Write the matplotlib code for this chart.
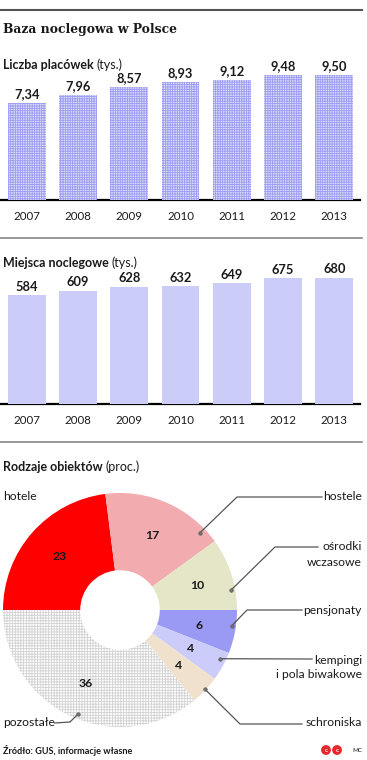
import matplotlib
matplotlib.use('Agg')
import matplotlib.pyplot as plt
import numpy as np
from matplotlib.patches import Circle

W, H = 367, 760
DPI = 100

# ---- data ----
years = ['2007', '2008', '2009', '2010', '2011', '2012', '2013']
placowki = [7.34, 7.96, 8.57, 8.93, 9.12, 9.48, 9.50]
placowki_labels = ['7,34', '7,96', '8,57', '8,93', '9,12', '9,48', '9,50']
miejsca = [584, 609, 628, 632, 649, 675, 680]
types = ['hotele', 'hostele', 'ośrodki\nwczasowe', 'pensjonaty',
         'kempingi\ni pola biwakowe', 'schroniska', 'pozostałe']
shares = [23, 17, 10, 6, 4, 4, 36]

# ---- style ----
plt.rcParams['font.family'] = ['Lato', 'DejaVu Sans']
plt.rcParams['hatch.linewidth'] = 0.6
TXT = '#1a1a1a'

fig = plt.figure(figsize=(W / DPI, H / DPI), dpi=DPI)


def px_axes(left, top, width, height, **kw):
    return fig.add_axes([left / W, 1 - (top + height) / H, width / W, height / H], **kw)


overlay = px_axes(0, 0, W, H, zorder=10)
overlay.set_xlim(0, W)
overlay.set_ylim(H, 0)
overlay.axis('off')
overlay.patch.set_alpha(0)

renderer = fig.canvas.get_renderer()


def two_part(x, y, bold, regular, size):
    t = overlay.text(x, y, bold, fontweight='bold', fontsize=size, va='center', color=TXT)
    bb = t.get_window_extent(renderer)
    overlay.text(bb.x1 + 3, y, regular, fontsize=size, va='center', color=TXT)


# separators & title
overlay.plot([0, 362], [10, 10], color='#555555', lw=1.5)
overlay.plot([0, 362], [238, 238], color='#888888', lw=1.2)
overlay.plot([0, 362], [442, 442], color='#888888', lw=1.2)
overlay.text(3, 30, 'Baza noclegowa w Polsce', family='DejaVu Serif', fontweight='bold',
             fontsize=8.9, va='center', color=TXT)
two_part(3, 65, 'Liczba placówek', '(tys.)', 9)
two_part(3, 263, 'Miejsca noclegowe', '(tys.)', 9)
two_part(3, 467, 'Rodzaje obiektów', '(proc.)', 9)

x = np.arange(len(years))


def setup_bar_axes(ax, ymax):
    ax.set_xlim(-0.5, len(years) - 0.5)
    ax.set_ylim(0, ymax)
    for s in ax.spines.values():
        s.set_visible(False)
    ax.set_yticks([])
    ax.set_xticks(x, years)
    ax.tick_params(axis='x', length=0, pad=8, labelsize=8.3, labelcolor=TXT)
    ax.axhline(0, color='black', lw=1.6, zorder=0, clip_on=False)
    ax.patch.set_alpha(0)


# ---- bar chart 1 ----
ax1 = px_axes(1, 70, 359, 130)
ax1.bar(x, placowki, width=0.74, color='#dedefb', edgecolor='#9c9cf3',
        hatch='+++++++', linewidth=0, zorder=2)
setup_bar_axes(ax1, 130 / 13.2)
for xi, v, lab in zip(x, placowki, placowki_labels):
    ax1.annotate(lab, (xi, v), xytext=(0, 2), textcoords='offset points', ha='center',
                 va='bottom', fontweight='bold', fontsize=9.3, color=TXT)

# ---- bar chart 2 ----
ax2 = px_axes(1, 274, 359, 130)
ax2.bar(x, miejsca, width=0.74, color='#ccccf9', linewidth=0, zorder=2)
setup_bar_axes(ax2, 130 / 0.186)
for xi, v in zip(x, miejsca):
    ax2.annotate(str(v), (xi, v), xytext=(0, 2), textcoords='offset points', ha='center',
                 va='bottom', fontweight='bold', fontsize=9.3, color=TXT)

# ---- donut ----
colors = ['#ff0000', '#f2abae', '#e5e5c8', '#9a9af5', '#ccccfa', '#f0e1cc', '#ffffff']
PL, PT, PS = 3, 493, 234
axp = px_axes(PL, PT, PS, PS)
wedges, texts, autotexts = axp.pie(
    shares, startangle=180, counterclock=False, colors=colors, radius=1,
    wedgeprops=dict(width=0.66, linewidth=0),
    autopct=lambda p: f'{p:.0f}', pctdistance=0.69,
    textprops=dict(fontweight='bold', fontsize=8.8, color=TXT))
wedges[-1].set_hatch('++++++')
wedges[-1].set_edgecolor('#d2d2d2')
wedges[-1].set_linewidth(0)
axp.set_xlim(-1, 1)
axp.set_ylim(-1, 1)
axp.set_aspect('equal')
axp.axis('off')

cx, cy, R = PL + PS / 2, PT + PS / 2, PS / 2


def dot(angle_deg, rfrac):
    a = np.deg2rad(angle_deg)
    return cx + rfrac * R * np.cos(a), cy - rfrac * R * np.sin(a)


LINE = '#555555'
# (label index, dot angle, dot radius, path points after dot)
leaders = [
    (1, 44, 0.95, [(237, 497), (322, 497)]),
    (2, 10, 0.96, [(275, 547), (318, 547)]),
    (3, -8, 0.965, [(247, 610), (302, 610)]),
    (4, -26, 0.95, [(312, 659)]),
    (5, -43, 0.99, [(240, 724), (302, 724)]),
    (6, -112, 0.96, [(70, 722), (55, 723)]),
]
for idx, ang, rf, pts in leaders:
    d = dot(ang, rf)
    xs = [d[0]] + [p[0] for p in pts]
    ys = [d[1]] + [p[1] for p in pts]
    overlay.plot(xs, ys, color=LINE, lw=0.9)
    overlay.plot([d[0]], [d[1]], 'o', ms=2.5, color='#777777', mec='#555555', mew=0.5)

for idx, tx, ty, ha in [(0, 3, 497, 'left'), (1, 362, 497, 'right'), (2, 362, 547, 'right'),
                        (3, 362, 610, 'right'), (4, 362, 660, 'right'),
                        (5, 362, 723, 'right'), (6, 3, 723, 'left')]:
    for k, line in enumerate(types[idx].split('\n')):
        overlay.text(tx, ty + k * 15, line, ha=ha, va='center', fontsize=8.7, color=TXT)

# ---- footer ----
overlay.text(3, 750, 'Źródło: GUS, informacje własne', fontsize=6.6, fontweight='bold',
             va='center', color=TXT)
for cxx in (326, 337):
    overlay.add_patch(Circle((cxx, 750), 4.2, color='#e8262c'))
    overlay.text(cxx, 750, 'c', color='white', fontsize=4.5, fontweight='bold',
                 ha='center', va='center')
overlay.text(352, 750, 'MC', fontsize=4.5, va='center', color=TXT)

fig.savefig('out.png', dpi=DPI)
